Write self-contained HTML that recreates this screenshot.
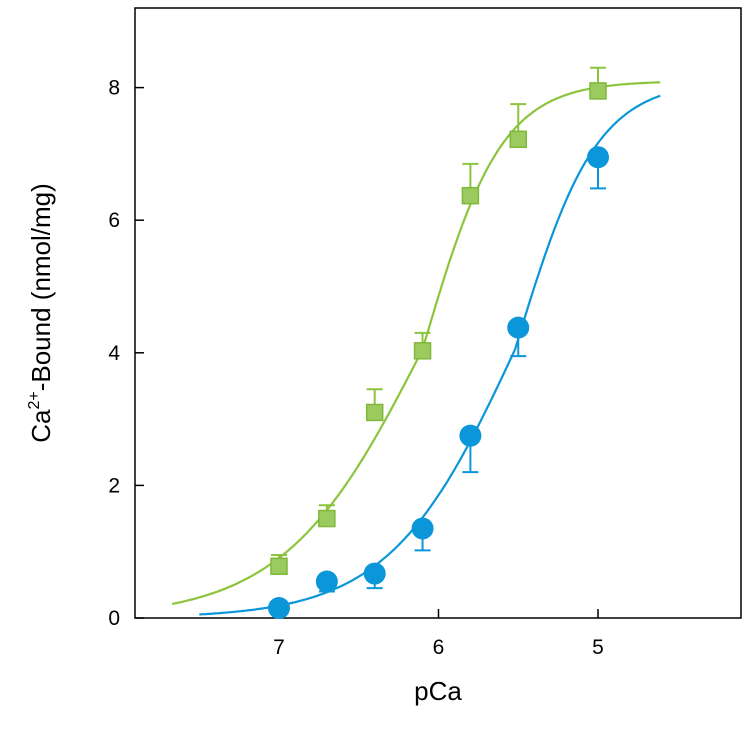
<!DOCTYPE html>
<html><head><meta charset="utf-8"><style>
body{margin:0;background:#fff;}
svg text{font-family:"Liberation Sans",Arial,sans-serif;}
</style></head><body>
<svg id="chart" width="752" height="744" viewBox="0 0 752 744" xmlns="http://www.w3.org/2000/svg">
<rect x="135" y="8" width="606" height="610" fill="none" stroke="#000" stroke-width="1.5"/>
<g id="ticks"></g>
<g id="series"></g>
<text x="438" y="700" font-size="26" text-anchor="middle">pCa</text>
<text transform="translate(50,313) rotate(-90)" font-size="26" text-anchor="middle">Ca<tspan font-size="16" dy="-11">2+</tspan><tspan dy="11">-Bound (nmol/mg)</tspan></text>
</svg>
<script>
const pCa = [7, 6.7, 6.4, 6.1, 5.8, 5.5, 5.0];
const greenVals = [0.78, 1.5, 3.1, 4.03, 6.37, 7.22, 7.95];
const greenErr = [0.17, 0.2, 0.35, 0.27, 0.48, 0.53, 0.35];
const blueVals = [0.15, 0.55, 0.67, 1.35, 2.75, 4.38, 6.95];
const blueErr = [0.05, 0.15, 0.22, 0.33, 0.55, 0.43, 0.47];
const xTicks = [7, 6, 5];
const yTicks = [0, 2, 4, 6, 8];
const greenFit = {max: 8.1, pK: 6.1, nLow: 1.0, nHigh: 1.75, from: 7.67, to: 4.61};
const blueFit = {max: 8.1, pK: 5.52, nLow: 1.1, nHigh: 1.7, from: 7.5, to: 4.61};

const NS = "http://www.w3.org/2000/svg";
const xs = v => 279 + (7 - v) * 159.5;
const ys = v => 618 - v * 66.3;
const T = document.getElementById('ticks'), S = document.getElementById('series');
function mk(tag, attrs, parent){const e=document.createElementNS(NS,tag);for(const k in attrs)e.setAttribute(k,attrs[k]);parent.appendChild(e);return e;}

xTicks.forEach(t=>{
  const l=mk('line',{x1:xs(t),x2:xs(t),y1:618,y2:609,stroke:'#000','stroke-width':1.5},T);
  
  
  const tx=mk('text',{x:xs(t),y:654,'font-size':21,'text-anchor':'middle'},T);tx.textContent=t;
  
  
});
yTicks.forEach(t=>{
  const l=mk('line',{x1:135,x2:144,y1:ys(t),y2:ys(t),stroke:'#000','stroke-width':1.5},T);
  
  
  const tx=mk('text',{x:120,y:ys(t)+7,'font-size':21,'text-anchor':'end'},T);tx.textContent=t;
  
  
});

function fitPath(f){let d='';for(let i=0;i<=200;i++){const p=f.from+(f.to-f.from)*i/200;const n=p>f.pK?f.nLow:f.nHigh;const y=f.max/(1+Math.pow(10,n*(p-f.pK)));d+=(i?'L':'M')+xs(p).toFixed(1)+','+ys(y).toFixed(1);}return d;}

const g1=mk('path',{d:fitPath(greenFit),fill:'none',stroke:'#8cc43c','stroke-width':2.2},S);


const b1=mk('path',{d:fitPath(blueFit),fill:'none',stroke:'#0a96d8','stroke-width':2.2},S);



pCa.forEach((p,i)=>{
  const x=xs(p), y=ys(greenVals[i]), ye=ys(greenVals[i]+greenErr[i]);
  const e=mk('path',{d:`M${x},${y}L${x},${ye}M${x-8},${ye}L${x+8},${ye}`,stroke:'#8cc43c','stroke-width':2,fill:'none'},S);
  
  
  const r=mk('rect',{x:x-8,y:y-8,width:16,height:16,fill:'#9bca5e',stroke:'#80b83c','stroke-width':1.5},S);
  
  
});
pCa.forEach((p,i)=>{
  const x=xs(p), y=ys(blueVals[i]), ye=ys(blueVals[i]-blueErr[i]);
  const e=mk('path',{d:`M${x},${y}L${x},${ye}M${x-8},${ye}L${x+8},${ye}`,stroke:'#0a96d8','stroke-width':2,fill:'none'},S);
  
  
  const c=mk('circle',{cx:x,cy:y,r:11,fill:'#0a96d8'},S);
  
  
});
</script>
</body></html>
